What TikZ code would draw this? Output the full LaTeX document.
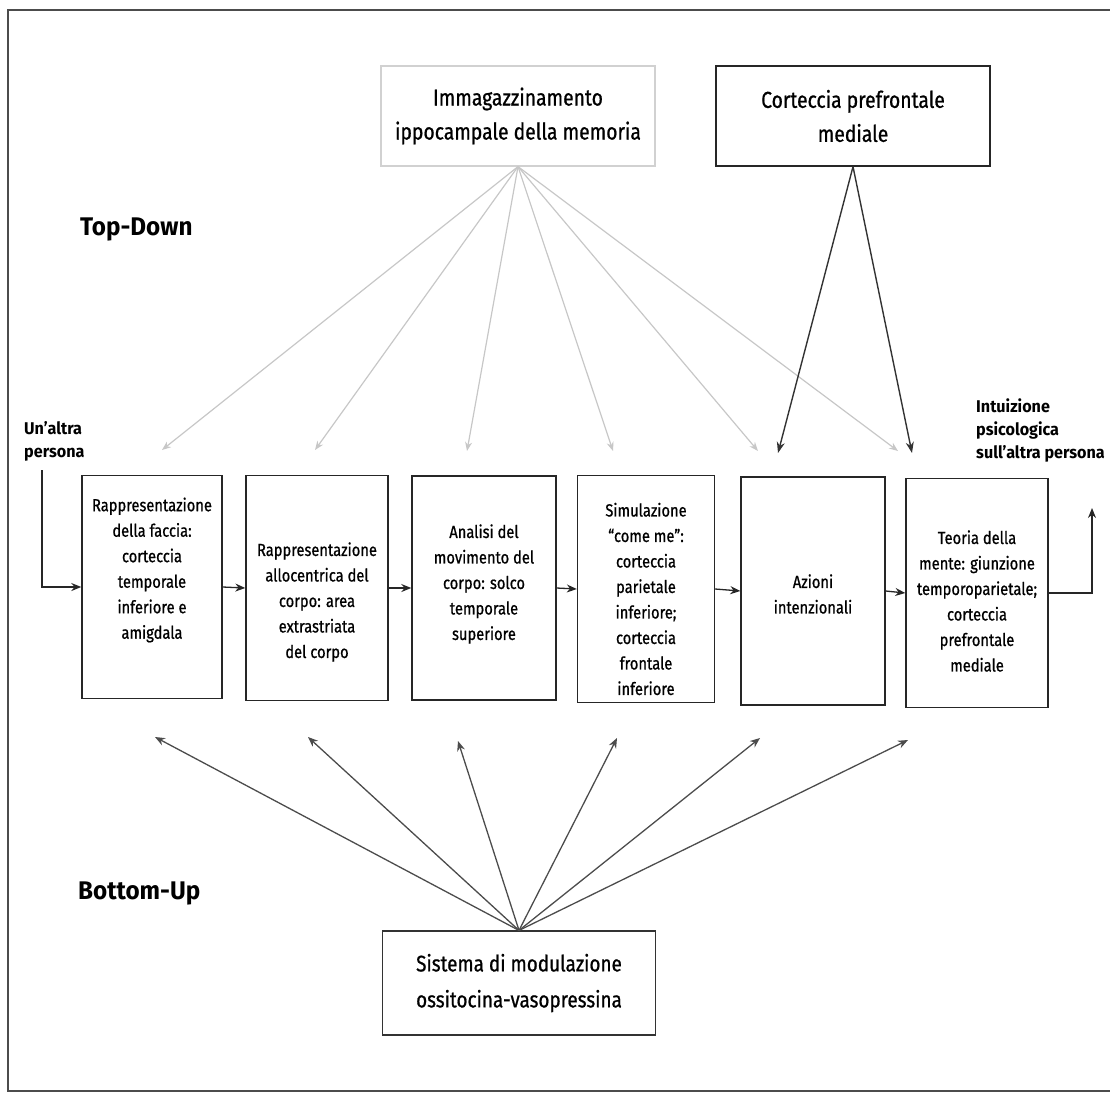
\documentclass[tikz,border=0pt]{standalone}
\usepackage{fontspec}
\setmainfont{Fira Sans}[FakeStretch=0.84,FakeBold=0.8]
\newfontfamily\lblfont{Fira Sans}[FakeStretch=0.95]
\usetikzlibrary{arrows.meta}
\begin{document}
\begin{tikzpicture}[x=1pt,y=-1pt,
  proc/.style={draw=black!85,line width=1.4pt,rectangle,inner sep=0pt},
  ptext/.style={align=center,inner sep=0pt,font=\fontsize{17.5}{25.5}\selectfont},
  topbox/.style={rectangle,inner sep=2pt,align=center},
  flow/.style={draw=black!85,line width=1.3pt,-{Stealth[length=10pt,width=8pt]}},
  grayarr/.style={draw=black!22,line width=1.2pt,-{Stealth[length=9pt,width=7pt]}},
  darkarr/.style={draw=black!70,line width=1.3pt,-{Stealth[length=10pt,width=8pt]}},
  blackarr/.style={draw=black!80,line width=1.4pt,-{Stealth[length=11pt,width=8pt]}},
  lbl/.style={font=\lblfont\bfseries\fontsize{25.5}{28}\selectfont,anchor=west,inner sep=0pt},
  side/.style={font=\lblfont\bfseries\fontsize{17}{23}\selectfont,align=left,inner sep=0pt}]
\useasboundingbox (0,0) rectangle (1110,1093);
% frame
\draw[black!70,line width=1.6pt] (1110,10) -- (8,10) -- (8,1091) -- (1110,1091);
% top boxes
\node[topbox,draw=black!18,line width=1.2pt,minimum width=274pt,minimum height=100pt,
  font=\fontsize{23}{34}\selectfont] (mem) at (518,116)
  {Immagazzinamento\\ippocampale della memoria};
\node[topbox,draw=black!85,line width=1.4pt,minimum width=274pt,minimum height=100pt,
  font=\fontsize{23}{34}\selectfont] (pfc) at (853,116)
  {Corteccia prefrontale\\mediale};
% bottom box
\node[topbox,draw=black!80,line width=1.2pt,minimum width=273pt,minimum height=104pt,
  font=\fontsize{22.5}{36}\selectfont] (oxy) at (519,983)
  {Sistema di modulazione\\ossitocina-vasopressina};
% process boxes
\node[proc,minimum width=140pt,minimum height=223pt] (b1) at (152,587) {};
\node[proc,minimum width=142pt,minimum height=225pt] (b2) at (317,588) {};
\node[proc,minimum width=144pt,minimum height=224pt] (b3) at (484,588) {};
\node[proc,minimum width=137pt,minimum height=227pt] (b4) at (646,589) {};
\node[proc,minimum width=144pt,minimum height=228pt] (b5) at (813,591) {};
\node[proc,minimum width=142pt,minimum height=229pt] (b6) at (977,593) {};
\node[ptext] (t1) at (152,570)
  {Rappresentazione\\della faccia:\\corteccia\\temporale\\inferiore e\\amigdala};
\node[ptext] (t2) at (317,602)
  {Rappresentazione\\allocentrica del\\corpo: area\\extrastriata\\del corpo};
\node[ptext] (t3) at (484,584)
  {Analisi del\\movimento del\\corpo: solco\\temporale\\superiore};
\node[ptext] (t4) at (646,599)
  {Simulazione\\“come me”:\\corteccia\\parietale\\inferiore;\\corteccia\\frontale\\inferiore};
\node[ptext] (t5) at (813,594)
  {Azioni\\intenzionali};
\node[ptext] (t6) at (977,601)
  {Teoria della\\mente: giunzione\\temporoparietale;\\corteccia\\prefrontale\\mediale};
% labels
\node[lbl] (td) at (80,229) {Top-Down};
\node[lbl] (bu) at (78,893) {Bottom-Up};
\node[side,anchor=north west] (inp) at (24,421) {Un’altra\\persona};
\node[side,anchor=north west] (outp) at (976,399) {Intuizione\\psicologica\\sull’altra persona};
% flow
\coordinate (inTop) at (42,470);
\coordinate (outTop) at (1092,508);
\draw[flow] (inTop) |- (b1.west);
\draw[flow] (b1.east) -- (b2.west);
\draw[flow] (b2.east) -- (b3.west);
\draw[flow] (b3.east) -- (b4.west);
\draw[flow] (b4.east) -- (b5.west);
\draw[flow] (b5.east) -- (b6.west);
\draw[flow] (b6.east) -| (outTop);
% top-down gray arrows
\coordinate (g1) at (162,450);
\coordinate (g2) at (315,450);
\coordinate (g3) at (467,451);
\coordinate (g4) at (613,451);
\coordinate (g5) at (758,451);
\coordinate (g6) at (898,451);
\foreach \t in {g1,g2,g3,g4,g5,g6} \draw[grayarr] (mem.south) -- (\t);
% prefrontal arrows
\coordinate (p1) at (778,453);
\coordinate (p2) at (912,453);
\draw[blackarr] (pfc.south) -- (p1);
\draw[blackarr] (pfc.south) -- (p2);
% bottom-up arrows
\coordinate (u1) at (155,737);
\coordinate (u2) at (308,737);
\coordinate (u3) at (458,741);
\coordinate (u4) at (617,738);
\coordinate (u5) at (760,738);
\coordinate (u6) at (908,740);
\foreach \t in {u1,u2,u3,u4,u5,u6} \draw[darkarr] (oxy.north) -- (\t);
\end{tikzpicture}
\end{document}
